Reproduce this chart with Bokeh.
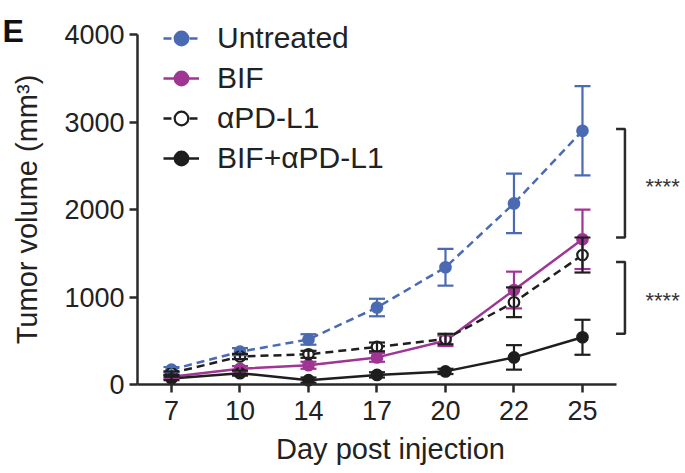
from bokeh.plotting import figure
from bokeh.models import (ColumnDataSource, Range1d, FixedTicker, Whisker, TeeHead,
                          Legend, LegendItem, Label)
from bokeh.core.properties import value
from bokeh.embed import file_html
from bokeh.resources import INLINE

# ---------------- data ----------------
days = [7, 10, 14, 17, 20, 22, 25]
untreated = [170, 375, 515, 880, 1340, 2070, 2900]
untreated_err = [30, 40, 60, 100, 210, 340, 510]
bif = [90, 180, 220, 310, 500, 1080, 1660]
bif_err = [20, 30, 40, 50, 60, 210, 340]
apdl1 = [130, 320, 345, 430, 520, 940, 1480]
apdl1_err = [20, 30, 40, 50, 60, 170, 200]
combo = [70, 130, 50, 110, 150, 310, 540]
combo_err = [20, 30, 30, 30, 30, 140, 200]
series_names = ["Untreated", "BIF", "\u03b1PD-L1", "BIF+\u03b1PD-L1"]
y_ticks = [0, 1000, 2000, 3000, 4000]
brackets = [(2920, 1680), (1400, 580)]
sig_labels = ["****", "****"]
x_title = "Day post injection"
y_title = "Tumor volume (mm\u00b3)"

FONT = "Liberation Sans"
BLUE = "#4a6ab3"
PURPLE = "#a03594"
BLACK = "#1e1e1e"
AX = "#2a2a2a"

xs = list(range(len(days)))
X0 = -0.496  # where the y axis sits (half a step left of the first day)

p = figure(frame_width=685, frame_height=473, output_backend="svg",
           toolbar_location=None,
           x_range=Range1d(-2.496, 7.504), y_range=Range1d(-1017, 4389),
           min_border=0)
p.outline_line_color = None
p.grid.visible = False
p.background_fill_color = "white"

# axes (placed inside the frame at fixed data locations)
xa = p.xaxis[0]
xa.fixed_location = 0
xa.ticker = FixedTicker(ticks=xs)
xa.major_label_overrides = {i: str(d) for i, d in enumerate(days)}
xa.bounds = (X0, 6.5)
ya = p.yaxis[0]
ya.fixed_location = X0
ya.ticker = FixedTicker(ticks=y_ticks)
ya.bounds = (0, 4000)
ya.axis_label = y_title
for ax in (xa, ya):
    ax.axis_line_width = 2.5
    ax.axis_line_color = AX
    ax.major_tick_line_width = 2.5
    ax.major_tick_line_color = AX
    ax.major_tick_in = 0
    ax.major_tick_out = 8
    ax.minor_tick_line_color = None
    ax.major_label_text_font = FONT
    ax.major_label_text_font_size = "27px"
    ax.major_label_text_color = "#222222"
    ax.axis_label_text_font = FONT
    ax.axis_label_text_font_size = "29px"
    ax.axis_label_text_font_style = "normal"
    ax.axis_label_text_color = "#222222"
xa.major_label_standoff = 8
ya.major_label_standoff = 5
ya.axis_label_standoff = 18

# x axis title (slightly right of the axis centre, as in the figure)
p.add_layout(Label(x=390, y=25, x_units="screen", y_units="screen", text=x_title,
                   text_font=FONT, text_font_size="29px", text_align="center",
                   text_baseline="alphabetic", text_color="#222222"))

def add_series(vals, errs, color, dash, fill):
    src = ColumnDataSource(dict(x=xs, y=vals,
                                lo=[v - e for v, e in zip(vals, errs)],
                                hi=[v + e for v, e in zip(vals, errs)]))
    w = Whisker(source=src, base="x", lower="lo", upper="hi", line_color=color,
                line_width=2.2,
                upper_head=TeeHead(size=16, line_color=color, line_width=2.2),
                lower_head=TeeHead(size=16, line_color=color, line_width=2.2))
    w.level = "glyph"
    p.add_layout(w)
    ln = p.line("x", "y", source=src, line_color=color, line_width=2.5, line_dash=dash)
    sc = p.scatter("x", "y", source=src, marker="circle", size=10.5, line_color=color,
                   line_width=2.2, fill_color=fill)
    return [ln, sc]

r1 = add_series(untreated, untreated_err, BLUE, "8 5", BLUE)
r2 = add_series(bif, bif_err, PURPLE, "solid", PURPLE)
r3 = add_series(apdl1, apdl1_err, BLACK, "8 5", "white")
r4 = add_series(combo, combo_err, BLACK, "solid", BLACK)

legend = Legend(items=[LegendItem(label=n, renderers=r) for n, r in
                       zip(series_names, [r1, r2, r3, r4])],
                location=(163, 298), orientation="vertical",
                glyph_width=36, glyph_height=34, label_standoff=18,
                label_text_font=FONT, label_text_font_size="30px",
                label_text_color="#222222", spacing=6, padding=0, margin=0,
                border_line_color=None, background_fill_alpha=0)
p.add_layout(legend, "center")

# significance brackets
bx = 6.62
tick = 0.13
for (top, bot), lab in zip(brackets, sig_labels):
    p.line([bx - tick, bx, bx, bx - tick], [top, top, bot, bot], line_color=AX,
           line_width=2.5)
    p.text([7.17], [(top + bot) / 2], text=[lab], text_font=value(FONT),
           text_font_size="22px", text_align="center", text_baseline="middle",
           text_color="#333333", y_offset=3)

p.add_layout(Label(x=2, y=443, x_units="screen", y_units="screen", text="E",
                   text_font=FONT, text_font_size="32px", text_font_style="bold",
                   text_baseline="alphabetic", text_color="#111111"))

open("out.html", "w").write(file_html(p, INLINE))
